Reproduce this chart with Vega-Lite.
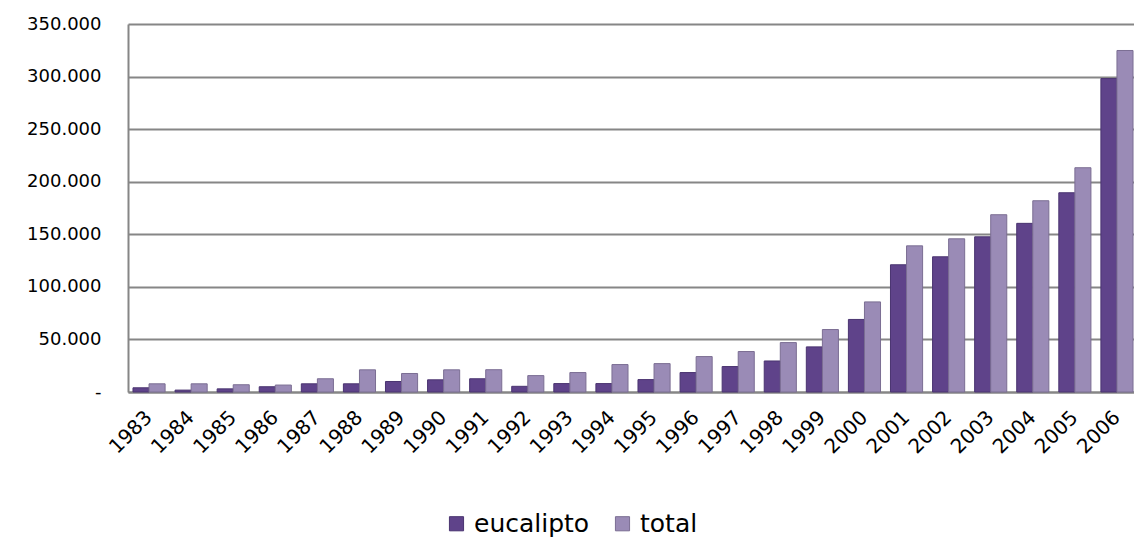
{
  "$schema": "https://vega.github.io/schema/vega-lite/v6.json",
  "width": 1010,
  "height": 368,
  "autosize": {"type": "none"},
  "padding": {"left": 128, "top": 24, "right": 0, "bottom": 148},
  "background": "#ffffff",
  "data": {
    "values": [
      {"year": "1983", "series": "eucalipto", "value": 4000}, {"year": "1983", "series": "total", "value": 7800},
      {"year": "1984", "series": "eucalipto", "value": 1800}, {"year": "1984", "series": "total", "value": 7800},
      {"year": "1985", "series": "eucalipto", "value": 3000}, {"year": "1985", "series": "total", "value": 6900},
      {"year": "1986", "series": "eucalipto", "value": 5000}, {"year": "1986", "series": "total", "value": 6600},
      {"year": "1987", "series": "eucalipto", "value": 7800}, {"year": "1987", "series": "total", "value": 12600},
      {"year": "1988", "series": "eucalipto", "value": 7800}, {"year": "1988", "series": "total", "value": 21100},
      {"year": "1989", "series": "eucalipto", "value": 10000}, {"year": "1989", "series": "total", "value": 17600},
      {"year": "1990", "series": "eucalipto", "value": 11600}, {"year": "1990", "series": "total", "value": 21100},
      {"year": "1991", "series": "eucalipto", "value": 12600}, {"year": "1991", "series": "total", "value": 21200},
      {"year": "1992", "series": "eucalipto", "value": 5400}, {"year": "1992", "series": "total", "value": 15600},
      {"year": "1993", "series": "eucalipto", "value": 8000}, {"year": "1993", "series": "total", "value": 18500},
      {"year": "1994", "series": "eucalipto", "value": 8000}, {"year": "1994", "series": "total", "value": 26100},
      {"year": "1995", "series": "eucalipto", "value": 11800}, {"year": "1995", "series": "total", "value": 27000},
      {"year": "1996", "series": "eucalipto", "value": 18500}, {"year": "1996", "series": "total", "value": 33700},
      {"year": "1997", "series": "eucalipto", "value": 24200}, {"year": "1997", "series": "total", "value": 38500},
      {"year": "1998", "series": "eucalipto", "value": 29500}, {"year": "1998", "series": "total", "value": 47000},
      {"year": "1999", "series": "eucalipto", "value": 42900}, {"year": "1999", "series": "total", "value": 59400},
      {"year": "2000", "series": "eucalipto", "value": 69000}, {"year": "2000", "series": "total", "value": 85700},
      {"year": "2001", "series": "eucalipto", "value": 121000}, {"year": "2001", "series": "total", "value": 139000},
      {"year": "2002", "series": "eucalipto", "value": 128600}, {"year": "2002", "series": "total", "value": 145700},
      {"year": "2003", "series": "eucalipto", "value": 147600}, {"year": "2003", "series": "total", "value": 168600},
      {"year": "2004", "series": "eucalipto", "value": 160400}, {"year": "2004", "series": "total", "value": 181900},
      {"year": "2005", "series": "eucalipto", "value": 189500}, {"year": "2005", "series": "total", "value": 213300},
      {"year": "2006", "series": "eucalipto", "value": 298100}, {"year": "2006", "series": "total", "value": 324800}
    ]
  },
  "mark": {"type": "bar", "strokeWidth": 1},
  "encoding": {
    "x": {
      "field": "year",
      "type": "nominal",
      "sort": null,
      "title": null,
      "scale": {"paddingInner": 0, "paddingOuter": 0},
      "axis": {
        "labelAngle": -45,
        "labelAlign": "right",
        "labelBaseline": "middle",
        "labelFont": "DejaVu Sans",
        "labelFontSize": 20,
        "labelColor": "#000000",
        "labelPadding": 22,
        "ticks": false,
        "domainColor": "#868686",
        "domainWidth": 2,
        "grid": false
      }
    },
    "xOffset": {
      "field": "series",
      "type": "nominal",
      "scale": {"paddingInner": 0, "paddingOuter": 0.31}
    },
    "y": {
      "field": "value",
      "type": "quantitative",
      "title": null,
      "scale": {"domain": [0, 350000], "nice": false},
      "axis": {
        "values": [0, 50000, 100000, 150000, 200000, 250000, 300000, 350000],
        "labelExpr": "datum.value == 0 ? '-' : replace(format(datum.value, ','), /,/g, '.')",
        "labelFont": "DejaVu Sans",
        "labelFontSize": 18,
        "labelColor": "#000000",
        "labelPadding": 27,
        "ticks": false,
        "domainColor": "#868686",
        "domainWidth": 2,
        "gridColor": "#868686",
        "gridWidth": 2
      }
    },
    "color": {
      "field": "series",
      "type": "nominal",
      "scale": {"domain": ["eucalipto", "total"], "range": ["#5f438a", "#9a8bb6"]},
      "legend": {
        "title": null,
        "orient": "none",
        "direction": "horizontal",
        "legendX": 316,
        "legendY": 487,
        "symbolType": "square",
        "symbolSize": 200,
        "symbolStrokeColor": "#4a3470",
        "symbolStrokeWidth": 1,
        "labelFont": "DejaVu Sans",
        "labelFontSize": 25,
        "labelColor": "#000000",
        "columnPadding": 20,
        "labelOffset": 5
      }
    },
    "stroke": {
      "field": "series",
      "type": "nominal",
      "scale": {"domain": ["eucalipto", "total"], "range": ["#4a3470", "#7b6e93"]},
      "legend": null
    }
  },
  "config": {"view": {"stroke": null}}
}
